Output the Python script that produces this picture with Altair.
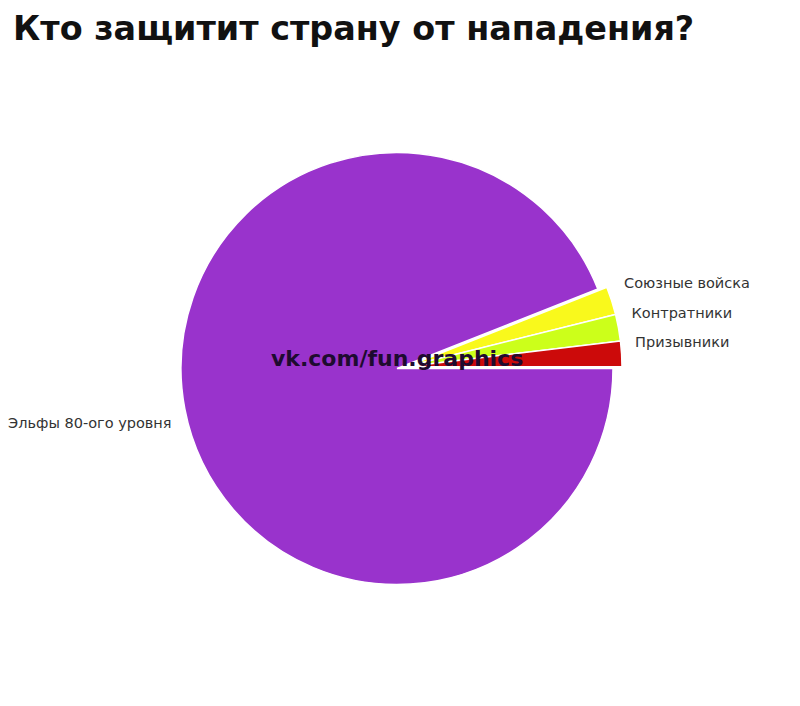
import math
import altair as alt
import pandas as pd

# Data
categories = ["Союзные войска", "Контратники", "Призывники", "Эльфы 80-ого уровня"]
values = [2.1, 2.0, 1.9, 94.0]
colors = ["#f9f91c", "#ccff1a", "#cc0a0a", "#9933cc"]
exploded = [True, True, True, False]

title_text = "Кто защитит страну от нападения?"
watermark = "vk.com/fun.graphics"

df = pd.DataFrame({
    "cat": categories,
    "val": values,
    "ord": list(range(len(categories))),
    "exploded": exploded,
})

total = sum(values)
small = sum(v for v, e in zip(values, exploded) if e)
start = math.pi / 2 - 2 * math.pi * small / total
theta_scale = alt.Scale(range=[start, start + 2 * math.pi])
color_scale = alt.Scale(domain=categories, range=colors)

R = 216
cx, cy = 388, 360.5        # main pie centre (view coordinates)
ex, ey = 397, 358.8        # exploded slices centre

base = alt.Chart(df)

def pie(center_x, center_y, show_exploded):
    return base.mark_arc(stroke="white", strokeWidth=1.5).encode(
        theta=alt.Theta("val:Q", stack=True, scale=theta_scale),
        order=alt.Order("ord:Q"),
        color=alt.Color("cat:N", scale=color_scale, legend=None),
        opacity=alt.condition(
            alt.datum.exploded == show_exploded, alt.value(1), alt.value(0)
        ),
        x=alt.value(center_x),
        y=alt.value(center_y),
        radius=alt.value(R),
    )

main = pie(cx, cy, False)
expl = pie(ex, ey, True)

labels_right = base.transform_filter(alt.datum.exploded == True).mark_text(
    align="left", baseline="middle", dy=-11.5, font="DejaVu Sans", fontSize=14.5,
    color="#333333",
).encode(
    theta=alt.Theta("val:Q", stack=True, scale=theta_scale),
    order=alt.Order("ord:Q"),
    text="cat:N",
    x=alt.value(cx),
    y=alt.value(cy),
    radius=alt.value(238.5),
)

labels_left = base.mark_text(
    align="right", baseline="middle", dy=12, font="DejaVu Sans", fontSize=14.5,
    color="#333333",
).encode(
    theta=alt.Theta("val:Q", stack=True, scale=theta_scale),
    order=alt.Order("ord:Q"),
    text="cat:N",
    opacity=alt.condition(alt.datum.exploded == False, alt.value(1), alt.value(0)),
    x=alt.value(cx),
    y=alt.value(cy),
    radius=alt.value(229.5),
)

title = alt.Chart(pd.DataFrame({"t": [title_text]})).mark_text(
    align="left", baseline="middle", font="DejaVu Sans", fontWeight="bold",
    fontSize=33.4, color="#111111",
).encode(text="t:N", x=alt.value(4), y=alt.value(22))

wm = alt.Chart(pd.DataFrame({"t": [watermark]})).mark_text(
    align="left", baseline="middle", font="DejaVu Sans", fontWeight="bold",
    fontSize=22, color="#1e0b30",
).encode(text="t:N", x=alt.value(262), y=alt.value(351))

chart = alt.layer(main, expl, labels_right, labels_left, title, wm).properties(
    width=784, height=690,
    autosize=alt.AutoSizeParams(type="fit", contains="padding"),
    padding=0,
    background="white",
).configure_view(stroke=None)

chart.save("out.html", embed_options={"renderer": "svg", "actions": False})
